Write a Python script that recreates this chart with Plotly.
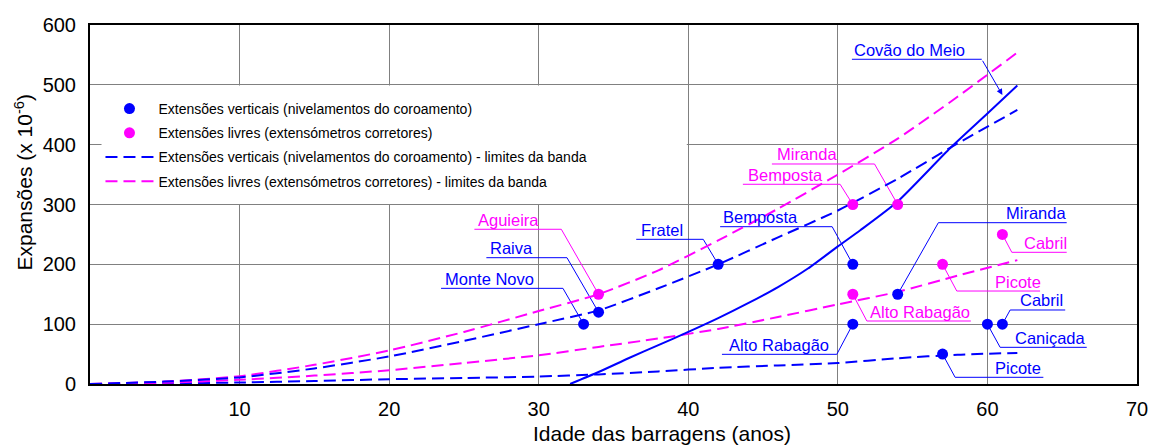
import plotly.graph_objects as go

# ---------------- data ----------------
vert_names = ["Monte Novo", "Raiva", "Fratel", "Bemposta", "Alto Rabagão",
              "Miranda", "Picote", "Caniçada", "Cabril"]
vert_age = [33, 34, 42, 51, 51, 54, 57, 60, 61]
vert_exp = [100, 120, 200, 200, 100, 150, 50, 100, 100]

livre_names = ["Aguieira", "Bemposta", "Miranda", "Alto Rabagão", "Picote", "Cabril"]
livre_age = [34, 51, 54, 51, 57, 61]
livre_exp = [150, 300, 300, 150, 200, 250]

band_age = [0, 5, 10, 15, 20, 25, 30, 34, 38, 42, 46, 50, 54, 58, 62]
vert_upper = [0, 4, 11, 26, 46, 72, 100, 123, 160, 200, 245, 290, 343, 402, 458]
vert_lower = [0, 1, 2.5, 5, 8, 10, 12.5, 16, 21, 27, 31, 35, 43, 49, 52]
livre_upper = [0, 4, 13, 32, 56, 87, 122, 150, 190, 240, 293, 350, 410, 480, 554]
livre_lower = [0, 2, 7, 14, 23, 35, 48, 62, 76, 92, 112, 133, 154, 181, 207]

covao_age = [32.1, 34, 36, 38, 40, 42, 44, 46, 48, 50, 51.5, 54, 57.5, 60, 62]
covao_exp = [0, 20, 43, 65, 87, 110, 135, 162, 193, 230, 257, 305, 394, 452, 499]

x_ticks = [10, 20, 30, 40, 50, 60, 70]
y_ticks = [0, 100, 200, 300, 400, 500, 600]

leg_v_pts = "Extensões verticais (nivelamentos do coroamento)"
leg_l_pts = "Extensões livres (extensómetros corretores)"
leg_v_band = "Extensões verticais (nivelamentos do coroamento) - limites da banda"
leg_l_band = "Extensões livres (extensómetros corretores) - limites da banda"

BLUE = "#0000FF"
MAG = "#FF00FF"
DASH = "12px,6px"
FONT = "Liberation Sans, Arial"

# callout layout: (series, index, text_left_x, text_center_y, ul_x0, ul_x1, ul_y, leader_from_right)
callouts = [
    ("l", 0, 25.83, 274.1, 25.70, 31.51, 258.6, True),
    ("v", 1, 26.63, 227.3, 26.50, 31.89, 211.1, True),
    ("v", 0, 23.63, 176.2, 23.47, 31.62, 159.9, True),
    ("v", 2, 36.72, 257.4, 36.52, 41.00, 241.8, True),
    ("v", 3, 42.18, 279.1, 42.13, 49.62, 262.9, True),
    ("l", 2, 45.81, 383.9, 45.59, 52.45, 367.7, True),
    ("l", 1, 43.85, 349.3, 43.65, 50.15, 333.8, True),
    ("v", 5, 61.11, 285.3, 56.72, 65.30, 269.6, False),
    ("l", 5, 62.30, 236.2, 61.63, 65.30, 220.1, False),
    ("l", 4, 60.38, 171.0, 57.95, 63.52, 155.4, False),
    ("l", 3, 52.03, 120.8, 51.94, 58.89, 105.3, False),
    ("v", 8, 62.07, 140.4, 61.52, 65.20, 123.7, False),
    ("v", 7, 61.74, 76.4, 60.85, 66.64, 61.3, False),
    ("v", 6, 60.40, 27.2, 57.84, 63.74, 11.2, False),
    ("v", 4, 42.62, 65.2, 42.25, 49.93, 49.6, True),
]

fig = go.Figure()

# bands
fig.add_trace(go.Scatter(x=band_age, y=vert_lower, mode="lines", name=leg_v_band,
                         line=dict(color=BLUE, width=2, dash=DASH, shape="spline", smoothing=0.6),
                         showlegend=False, hoverinfo="skip"))
fig.add_trace(go.Scatter(x=band_age, y=livre_lower, mode="lines", name=leg_l_band,
                         line=dict(color=MAG, width=2, dash=DASH, shape="spline", smoothing=0.6),
                         showlegend=False, hoverinfo="skip"))
fig.add_trace(go.Scatter(x=band_age, y=livre_upper, mode="lines", name=leg_l_band,
                         line=dict(color=MAG, width=2, dash=DASH, shape="spline", smoothing=0.6),
                         showlegend=False, hoverinfo="skip"))
fig.add_trace(go.Scatter(x=band_age, y=vert_upper, mode="lines", name=leg_v_band,
                         line=dict(color=BLUE, width=2, dash=DASH, shape="spline", smoothing=0.6),
                         showlegend=False, hoverinfo="skip"))
# Covão do Meio curve
fig.add_trace(go.Scatter(x=covao_age, y=covao_exp, mode="lines", name="Covão do Meio",
                         line=dict(color=BLUE, width=2, shape="spline", smoothing=0.6),
                         showlegend=False))
# points
fig.add_trace(go.Scatter(x=vert_age, y=vert_exp, mode="markers", name=leg_v_pts,
                         text=vert_names, marker=dict(color=BLUE, size=11),
                         legendgroup="a"))
fig.add_trace(go.Scatter(x=livre_age, y=livre_exp, mode="markers", name=leg_l_pts,
                         text=livre_names, marker=dict(color=MAG, size=11),
                         legendgroup="b"))
# legend-only entries for bands
fig.add_trace(go.Scatter(x=[None], y=[None], mode="lines", name=leg_v_band,
                         line=dict(color=BLUE, width=2, dash=DASH),
                         legendgroup="c"))
fig.add_trace(go.Scatter(x=[None], y=[None], mode="lines", name=leg_l_band,
                         line=dict(color=MAG, width=2, dash=DASH),
                         legendgroup="d"))

shapes = []
# white legend box hiding grid
shapes.append(dict(type="rect", xref="x", yref="y", x0=0.77, x1=39.9, y0=301, y1=499,
                   fillcolor="white", line=dict(width=0), layer="between"))

annotations = []
for ser, idx, tx, ty, ux0, ux1, uy, right in callouts:
    if ser == "v":
        col, name, px, py = BLUE, vert_names[idx], vert_age[idx], vert_exp[idx]
    else:
        col, name, px, py = MAG, livre_names[idx], livre_age[idx], livre_exp[idx]
    shapes.append(dict(type="line", xref="x", yref="y", x0=ux0, x1=ux1, y0=uy, y1=uy,
                       line=dict(color=col, width=1), layer="between"))
    sx = ux1 if right else ux0
    shapes.append(dict(type="line", xref="x", yref="y", x0=sx, y0=uy, x1=px, y1=py,
                       line=dict(color=col, width=1), layer="between"))
    annotations.append(dict(x=tx, y=ty, xref="x", yref="y", text=name, showarrow=False,
                            xanchor="left", yanchor="middle",
                            font=dict(color=col, size=16.5, family=FONT)))

# Covão do Meio label + arrow
shapes.append(dict(type="line", xref="x", yref="y", x0=50.94, x1=59.62, y0=542.7, y1=542.7,
                   line=dict(color=BLUE, width=1), layer="between"))
annotations.append(dict(x=50.94, y=558.2, xref="x", yref="y", text="Covão do Meio",
                        showarrow=False, xanchor="left", yanchor="middle",
                        font=dict(color=BLUE, size=16.5, family=FONT)))
annotations.append(dict(x=61.0, y=483, ax=59.62, ay=542.7, xref="x", yref="y",
                        axref="x", ayref="y", text="", showarrow=True, arrowhead=2,
                        arrowsize=1.2, arrowwidth=1, arrowcolor=BLUE))

# axis titles
annotations.append(dict(x=0.546, y=-0.139, xref="paper", yref="paper",
                        text="Idade das barragens (anos)", showarrow=False,
                        xanchor="center", yanchor="middle",
                        font=dict(size=21, color="black", family=FONT)))
annotations.append(dict(x=-0.0635, y=0.5627, xref="paper", yref="paper",
                        text="Expansões (x 10<sup>-6</sup>)", showarrow=False, textangle=-90,
                        xanchor="center", yanchor="middle",
                        font=dict(size=21, color="black", family=FONT)))

fig.update_layout(
    width=1151, height=446,
    margin=dict(l=90, r=14, t=25, b=62, autoexpand=False),
    paper_bgcolor="white", plot_bgcolor="white",
    font=dict(family=FONT, color="black"),
    shapes=shapes, annotations=annotations,
    showlegend=True,
    legend=dict(x=0.010, y=0.8106, xanchor="left", yanchor="top",
                bgcolor="rgba(0,0,0,0)", borderwidth=0,
                font=dict(size=14, color="black", family=FONT),
                tracegroupgap=3, itemwidth=48, traceorder="grouped"),
)
fig.update_xaxes(range=[0, 70], tickvals=x_ticks, ticks="", showgrid=True,
                 gridcolor="#808080", gridwidth=1, zeroline=False, automargin=False,
                 showline=True, linecolor="black", linewidth=2, mirror=True,
                 tickfont=dict(size=20), ticklabelstandoff=6)
fig.update_yaxes(range=[0, 600], tickvals=y_ticks, ticks="", showgrid=True,
                 gridcolor="#808080", gridwidth=1, zeroline=False, automargin=False,
                 showline=True, linecolor="black", linewidth=2, mirror=True,
                 tickfont=dict(size=20), ticklabelstandoff=8)

fig.write_html("out.html", config={"displayModeBar": False},
               post_script="document.body.style.margin='0px';document.body.style.overflow='hidden';")
